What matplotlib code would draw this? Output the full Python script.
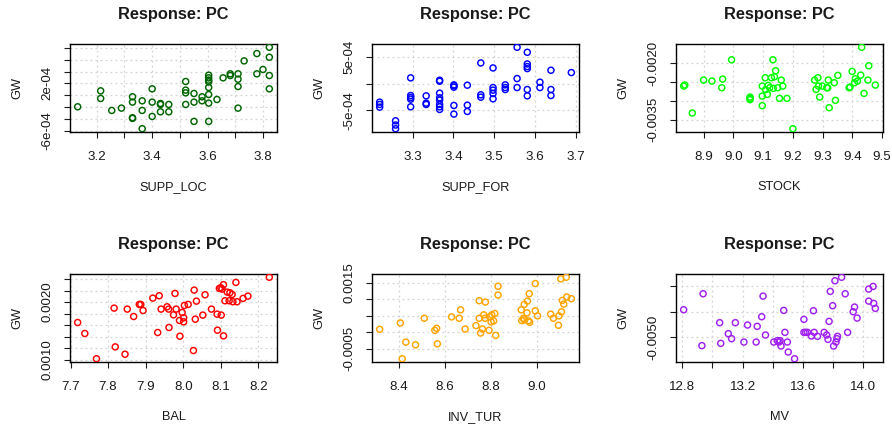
import numpy as np
import matplotlib
matplotlib.use("Agg")
import matplotlib.pyplot as plt

plt.rcParams['font.family'] = ['Liberation Sans', 'DejaVu Sans']

# --- data (GW vs each predictor) ---

supp_loc = [3.131, 3.214, 3.214, 3.254, 3.289, 3.329, 3.329, 3.329, 3.329,
            3.364, 3.364, 3.364, 3.400, 3.400, 3.400, 3.430, 3.430, 3.430,
            3.460, 3.460, 3.521, 3.521, 3.521, 3.521, 3.551, 3.551, 3.551,
            3.580, 3.580, 3.604, 3.604, 3.604, 3.604, 3.604, 3.604, 3.604,
            3.604, 3.634, 3.656, 3.682, 3.682, 3.710, 3.710, 3.710, 3.710,
            3.732, 3.778, 3.778, 3.800, 3.823, 3.823, 3.823, 3.823]
gw_loc = [-1.97e-4, 0.73e-4, -0.56e-4, -2.59e-4, -2.20e-4, -0.28e-4, -1.18e-4, -3.83e-4, -3.94e-4,
          -0.96e-4, -2.59e-4, -5.69e-4, 1.07e-4, -1.18e-4, -3.61e-4, -1.41e-4, -1.58e-4, -2.82e-4,
          -1.58e-4, -2.82e-4, 2.31e-4, 0.85e-4, 0.39e-4, -1.58e-4, 0.28e-4, -1.18e-4, -4.45e-4,
          -0.28e-4, -0.96e-4, 3.38e-4, 2.93e-4, 2.54e-4, 2.25e-4, 1.30e-4, 0.11e-4, -1.35e-4,
          -4.45e-4, -0.73e-4, 2.93e-4, 3.61e-4, 3.32e-4, 3.61e-4, 2.70e-4, 1.46e-4, -2.20e-4,
          5.80e-4, 7.04e-4, 3.61e-4, 4.34e-4, 8.11e-4, 6.42e-4, 3.32e-4, 1.07e-4]

supp_for = [3.219, 3.219, 3.219, 3.258, 3.258, 3.258,
            3.295, 3.295, 3.295, 3.295, 3.295, 3.333, 3.333, 3.333,
            3.366, 3.366, 3.366, 3.366, 3.366, 3.366, 3.366, 3.366,
            3.401, 3.401, 3.401, 3.401, 3.401, 3.434, 3.434, 3.434,
            3.467, 3.467, 3.467, 3.497, 3.497, 3.497, 3.497, 3.497,
            3.527, 3.527, 3.527, 3.556, 3.556, 3.556,
            3.581, 3.581, 3.581, 3.581, 3.581, 3.581, 3.612, 3.612,
            3.639, 3.639, 3.639, 3.689]
gw_for = [-3.48e-4, -3.91e-4, -4.41e-4, -6.96e-4, -7.76e-4, -8.45e-4,
          1.06e-4, -2.24e-4, -2.61e-4, -2.92e-4, -4.35e-4, -2.30e-4, -3.66e-4, -3.91e-4,
          0.62e-4, 0.43e-4, -1.80e-4, -2.67e-4, -3.11e-4, -3.91e-4, -4.35e-4, -4.84e-4,
          -0.25e-4, -0.43e-4, -0.68e-4, -4.10e-4, -5.71e-4, -0.31e-4, -4.04e-4, -5.22e-4,
          3.85e-4, -2.11e-4, -2.55e-4, 2.92e-4, -0.75e-4, -1.24e-4, -1.86e-4, -2.86e-4,
          -0.25e-4, -0.75e-4, -1.12e-4, 6.78e-4, 0.93e-4, -0.75e-4,
          5.84e-4, 3.66e-4, 3.17e-4, 2.79e-4, -1.12e-4, -2.30e-4, 0.25e-4, -0.75e-4,
          2.48e-4, -1.12e-4, -2.24e-4, 2.05e-4]

stock = [8.833, 8.837, 8.862, 8.900, 8.928, 8.961, 8.964, 8.994, 9.056, 9.056, 9.056,
         9.097, 9.097, 9.097, 9.107, 9.108, 9.114, 9.117, 9.122, 9.128, 9.133, 9.134,
         9.138, 9.142, 9.149, 9.155, 9.161, 9.166, 9.180, 9.200, 9.273, 9.278, 9.284,
         9.286, 9.290, 9.299, 9.314, 9.317, 9.319, 9.322, 9.339, 9.343, 9.351, 9.389,
         9.392, 9.399, 9.407, 9.410, 9.417, 9.428, 9.431, 9.439, 9.452, 9.455, 9.477]
gw_stock = [-0.002609, -0.002582, -0.003323, -0.002450, -0.002476, -0.002653, -0.002423,
            -0.001912, -0.002900, -0.002935, -0.002970, -0.002609, -0.002873, -0.003129,
            -0.002388, -0.002706, -0.002829, -0.002591, -0.002653, -0.002388, -0.001912,
            -0.002670, -0.002362, -0.002203, -0.002653, -0.002935, -0.002450, -0.002609,
            -0.002935, -0.003740, -0.002450, -0.002697, -0.002388, -0.002609, -0.002900,
            -0.002609, -0.002653, -0.002653, -0.002450, -0.003182, -0.002520, -0.002988,
            -0.002326, -0.002653, -0.002635, -0.002220, -0.002520, -0.002414, -0.002476,
            -0.002318, -0.001580, -0.002803, -0.002450, -0.002071, -0.002582]

bal = [7.719, 7.738, 7.769, 7.816, 7.819, 7.845, 7.851, 7.868, 7.883, 7.887, 7.893,
       7.919, 7.932, 7.936, 7.941, 7.957, 7.961, 7.962, 7.974, 7.978, 7.981, 7.990,
       7.991, 7.997, 8.001, 8.001, 8.003, 8.013, 8.027, 8.029, 8.032, 8.035, 8.052,
       8.058, 8.075, 8.090, 8.091, 8.096, 8.100, 8.103, 8.101, 8.107, 8.107, 8.111,
       8.117, 8.122, 8.124, 8.130, 8.132, 8.140, 8.143, 8.159, 8.172, 8.229]
gw_bal = [0.001647, 0.001457, 0.001020, 0.001896, 0.001225, 0.001098, 0.001879, 0.001751,
          0.001960, 0.001960, 0.001855, 0.002069, 0.001474, 0.002110, 0.001879, 0.001919,
          0.001879, 0.001561, 0.001780, 0.002150, 0.001879, 0.001682, 0.001410, 0.001821,
          0.001728, 0.001659, 0.001942, 0.001960, 0.001162, 0.002208, 0.001705, 0.002017,
          0.001775, 0.002127, 0.001879, 0.001792, 0.001514, 0.002237, 0.002249, 0.002225,
          0.001775, 0.002301, 0.001416, 0.002023, 0.002173, 0.002023, 0.002162, 0.002133,
          0.002006, 0.002341, 0.002006, 0.002064, 0.002104, 0.002430]

inv_tur = [8.316, 8.406, 8.430, 8.472, 8.414, 8.510, 8.556, 8.564, 8.567, 8.629, 8.662,
           8.668, 8.688, 8.735, 8.749, 8.749, 8.755, 8.763, 8.769, 8.776, 8.775, 8.792,
           8.795, 8.801, 8.804, 8.812, 8.817, 8.821, 8.831, 8.831, 8.932, 8.934, 8.942,
           8.945, 8.945, 8.957, 8.959, 8.963, 8.969, 8.967, 8.993, 8.993, 9.003, 9.060,
           9.072, 9.094, 9.096, 9.104, 9.107, 9.111, 9.117, 9.128, 9.130, 9.150]
gw_inv = [0.000082, 0.000276, -0.000306, -0.000388, -0.000810, 0.000418, 0.000051, 0.000112,
          -0.000357, 0.000459, 0.000418, 0.000673, 0.000092, 0.000194, 0.000418, 0.000949,
          -0.000031, 0.000092, 0.000520, 0.000908, 0.000418, 0.000051, 0.000459, 0.000306,
          0.000520, 0.000337, 0.000561, -0.000102, 0.001388, 0.001122, 0.000673, 0.000347,
          0.000418, 0.000367, 0.000837, 0.000582, 0.000939, 0.000337, 0.000296, 0.001163,
          0.001469, 0.000643, 0.000490, 0.000541, 0.000418, 0.000204, 0.000490, 0.001612,
          0.000612, 0.000959, 0.000847, 0.001660, 0.001061, 0.001010]

mv = [12.809, 12.930, 12.938, 13.048, 13.055, 13.105, 13.127, 13.152, 13.209, 13.233,
      13.290, 13.297, 13.327, 13.336, 13.352, 13.407, 13.431, 13.442, 13.449, 13.455,
      13.473, 13.481, 13.497, 13.503, 13.545, 13.607, 13.607, 13.618, 13.631, 13.657,
      13.670, 13.675, 13.697, 13.741, 13.758, 13.767, 13.774, 13.782, 13.798, 13.804,
      13.813, 13.820, 13.826, 13.830, 13.857, 13.881, 13.897, 13.934, 13.943, 13.960,
      14.037, 14.037, 14.066, 14.070, 14.081]
gw_mv = [-0.004458, -0.005163, -0.004144, -0.004712, -0.005118, -0.004928, -0.005026,
         -0.004712, -0.005092, -0.004758, -0.005092, -0.004784, -0.004595, -0.004190,
         -0.004954, -0.005092, -0.005065, -0.005092, -0.005065, -0.005170, -0.004471,
         -0.004902, -0.005092, -0.005288, -0.005420, -0.004647, -0.004902, -0.004902,
         -0.004902, -0.004974, -0.004477, -0.004902, -0.004980, -0.004902, -0.004954,
         -0.005039, -0.004686, -0.004098, -0.004379, -0.005170, -0.003889, -0.005092,
         -0.005026, -0.004980, -0.003820, -0.004144, -0.004902, -0.004497, -0.004405,
         -0.004621, -0.004052, -0.004288, -0.004000, -0.004333, -0.004431]

# axis ticks and labels ('' = tick without label, like R skips overlapping ones)
loc_xt = [3.2, 3.3, 3.4, 3.5, 3.6, 3.7, 3.8]
loc_xl = ['3.2', '', '3.4', '', '3.6', '', '3.8']
loc_yt = [-6e-4, -4e-4, -2e-4, 0, 2e-4, 4e-4, 6e-4, 8e-4]
loc_yl = ['-6e-04', '', '', '', '2e-04', '', '', '']

for_xt = [3.3, 3.4, 3.5, 3.6, 3.7]
for_xl = ['3.3', '3.4', '3.5', '3.6', '3.7']
for_yt = [-5e-4, 0, 5e-4]
for_yl = ['-5e-04', '', '5e-04']

stock_xt = [8.9, 9.0, 9.1, 9.2, 9.3, 9.4, 9.5]
stock_xl = ['8.9', '9.0', '9.1', '9.2', '9.3', '9.4', '9.5']
stock_yt = [-0.0035, -0.0030, -0.0025, -0.0020]
stock_yl = ['-0.0035', '', '', '-0.0020']

bal_xt = [7.7, 7.8, 7.9, 8.0, 8.1, 8.2]
bal_xl = ['7.7', '7.8', '7.9', '8.0', '8.1', '8.2']
bal_yt = [0.0010, 0.0012, 0.0014, 0.0016, 0.0018, 0.0020, 0.0022, 0.0024]
bal_yl = ['0.0010', '', '', '', '', '0.0020', '', '']

inv_xt = [8.4, 8.6, 8.8, 9.0]
inv_xl = ['8.4', '8.6', '8.8', '9.0']
inv_yt = [-0.0005, 0.0, 0.0005, 0.0010, 0.0015]
inv_yl = ['-0.0005', '', '', '', '0.0015']

mv_xt = [12.8, 13.0, 13.2, 13.4, 13.6, 13.8, 14.0]
mv_xl = ['12.8', '', '13.2', '', '13.6', '', '14.0']
mv_yt = [-0.0050, -0.0045, -0.0040]
mv_yl = ['-0.0050', '', '']

panels = [
    (supp_loc, gw_loc, 'SUPP_LOC', '#006400', loc_xt, loc_xl, loc_yt, loc_yl),
    (supp_for, gw_for, 'SUPP_FOR', '#0000FF', for_xt, for_xl, for_yt, for_yl),
    (stock, gw_stock, 'STOCK', '#00FF00', stock_xt, stock_xl, stock_yt, stock_yl),
    (bal, gw_bal, 'BAL', '#FF0000', bal_xt, bal_xl, bal_yt, bal_yl),
    (inv_tur, gw_inv, 'INV_TUR', '#FFA500', inv_xt, inv_xl, inv_yt, inv_yl),
    (mv, gw_mv, 'MV', '#A020F0', mv_xt, mv_xl, mv_yt, mv_yl),
]

W, H = 892, 430
fig = plt.figure(figsize=(W / 100, H / 100), dpi=100)

lefts = [70, 372, 676]
tops = [44, 274]
bw, bh = 207, 88


def r_lim(v):
    # R style axis range: data range +/- 4%
    lo, hi = min(v), max(v)
    d = (hi - lo) * 0.04
    return lo - d, hi + d


for i, (x, y, name, col, xt, xl, yt, yl) in enumerate(panels):
    l = lefts[i % 3]
    t = tops[i // 3]
    ax = fig.add_axes([l / W, 1 - (t + bh) / H, bw / W, bh / H])
    ax.scatter(x, y, s=19, facecolors='none', edgecolors=col, linewidths=1.05, zorder=3)
    ax.set_xlim(r_lim(x))
    ax.set_ylim(r_lim(y))
    ax.set_xticks(xt)
    ax.set_xticklabels(xl)
    ax.set_yticks(yt)
    ax.set_yticklabels(yl, rotation=90, va='center')
    ax.grid(True, color='#D3D3D3', linestyle=(0, (1.5, 2.5)), linewidth=0.9)
    ax.set_axisbelow(True)
    ax.tick_params(axis='x', direction='out', length=4.5, width=0.8, pad=9,
                   labelsize=9.6, colors='#1a1a1a')
    ax.tick_params(axis='y', direction='out', length=4.5, width=0.8, pad=7.5,
                   labelsize=9.6, colors='#1a1a1a')
    for sp in ax.spines.values():
        sp.set_linewidth(1.0)
    ax.annotate('Response: PC', xy=(0.5, 1), xycoords='axes fraction',
                xytext=(0, 21), textcoords='offset points',
                ha='center', va='center', fontsize=11.8, fontweight='bold',
                color='#1a1a1a')
    ax.annotate(name, xy=(0.5, 0), xycoords='axes fraction',
                xytext=(0, -39.5), textcoords='offset points',
                ha='center', va='center', fontsize=9.2, color='#1a1a1a')
    ax.annotate('GW', xy=(0, 0.5), xycoords='axes fraction',
                xytext=(-38, 0), textcoords='offset points',
                ha='center', va='center', fontsize=9.2, rotation=90,
                color='#1a1a1a')

fig.savefig('out.png', dpi=100, facecolor='white')
